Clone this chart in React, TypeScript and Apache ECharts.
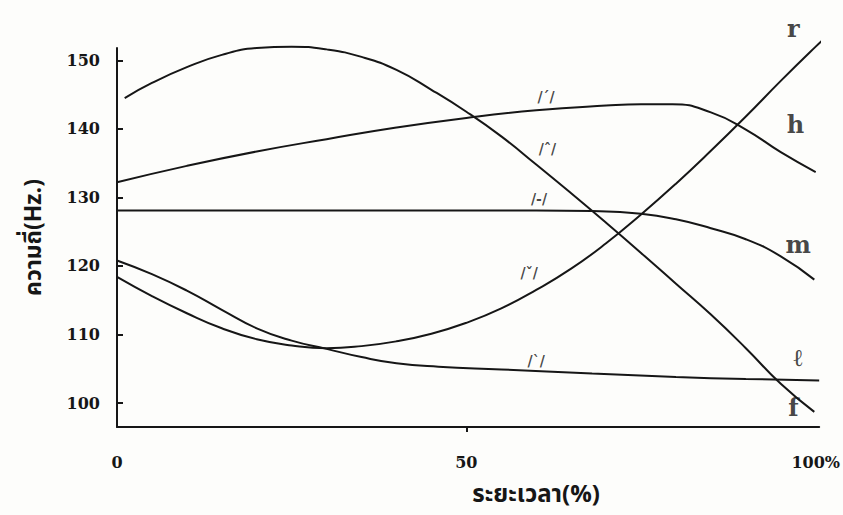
import React, { useEffect, useRef } from "react";
import * as echarts from "echarts";

// Tick values
const Y_TICKS = [100, 110, 120, 130, 140, 150];
const X_TICKS = [0, 50, 100];
const X_TICK_MARKS = [50];

// Tone contours: [time %, frequency Hz]
const FALLING: [number, number][] = [
  [1.1, 144.5], [5, 146.7], [10, 149.0], [15, 150.8], [20, 151.8], [25, 152.0], [30, 151.6],
  [35, 150.5], [40, 148.6], [45, 145.7], [50, 142.5], [55, 138.9], [60, 134.8], [65, 130.6],
  [70, 126.3], [75, 121.9], [80, 117.4], [85, 112.9], [90, 108.0], [95, 102.8], [99.8, 98.7],
];
const HIGH: [number, number][] = [
  [0, 132.2], [10, 134.6], [20, 136.7], [30, 138.5], [40, 140.2], [50, 141.6],
  [60, 142.7], [70, 143.4], [75, 143.6], [79.5, 143.6], [85, 142.4],
  [90, 139.9], [95, 136.6], [100, 133.7],
];
const MID: [number, number][] = [
  [0, 128.1], [20, 128.1], [40, 128.1], [60, 128.1], [68, 128.0], [75, 127.6], [80, 126.8],
  [85, 125.5], [90, 123.9], [95, 121.4], [99.8, 118.0],
];
const RISING: [number, number][] = [
  [0, 118.4], [5, 115.6], [10, 113.1], [15, 110.9], [20, 109.3], [25, 108.4], [30, 108.0],
  [35, 108.3], [40, 109.0], [45, 110.1], [50, 111.7], [55, 113.8], [60, 116.5], [65, 119.6],
  [70, 123.3], [75, 127.5], [80, 132.0], [85, 136.8], [90, 141.8], [95, 147.0],
  [100, 152.0], [101.7, 153.6],
];
const LOW: [number, number][] = [
  [0, 120.8], [5, 118.8], [10, 116.4], [15, 113.6], [20, 110.9], [25, 109.1], [30, 107.9],
  [35, 106.7], [40, 105.8], [46, 105.3], [55, 104.9], [68, 104.3], [80, 103.8],
  [90, 103.5], [100.5, 103.3],
];

// Tone letters at the right: [x %, Hz, text]
const END_LABELS: [number, number, string][] = [
  [96.8, 154.7, "r"],
  [97.1, 140.6, "h"],
  [97.5, 123.1, "m"],
  [97.5, 106.6, "ℓ"],
  [96.8, 99.3, "f"],
];
// Tone marks inside the plot: [x %, Hz, text]
const TONE_MARKS: [number, number, string][] = [
  [61.4, 144.6, "/ˊ/"],
  [61.6, 137.0, "/ˆ/"],
  [60.4, 129.8, "/-/"],
  [59.0, 118.9, "/ˇ/"],
  [60.0, 106.2, "/ˋ/"],
];

const Y_NAME = "ความถี่(Hz.)";
const X_NAME = "ระยะเวลา(%)";

const INK = "#161616";
const SERIF = "'DejaVu Serif', 'Liberation Serif', serif";
const THAI = "'Noto Sans Thai', 'Noto Sans', 'DejaVu Sans', sans-serif";

export default function App() {
  const ref = useRef<HTMLDivElement>(null);
  useEffect(() => {
    if (!ref.current) return;
    const chart = echarts.init(ref.current, undefined, { renderer: "svg" });
    const lineSeries = (name: string, data: [number, number][]) => ({
      name,
      type: "line",
      data,
      smooth: 0.5,
      symbol: "none",
      clip: false,
      silent: true,
      lineStyle: { color: INK, width: 2 },
    });
    chart.setOption({
      animation: false,
      backgroundColor: "#fdfdfb",
      grid: { left: 117, right: 17, top: 48, bottom: 88 },
      xAxis: {
        type: "value",
        min: 0,
        max: 100.5,
        name: X_NAME,
        nameLocation: "middle",
        nameGap: 56,
        nameTextStyle: {
          fontFamily: THAI,
          fontSize: 24,
          color: INK,
          fontWeight: "bold",
          padding: [0, 0, 0, 136],
        },
        axisLine: { show: true, lineStyle: { color: INK, width: 2 } },
        axisTick: { show: true, inside: false, length: 5, customValues: X_TICK_MARKS, lineStyle: { color: INK, width: 2 } },
        axisLabel: {
          customValues: X_TICKS,
          margin: 27,
          formatter: (v: number) => (v === 100 ? "100%" : String(v)),
          fontFamily: SERIF,
          fontWeight: "bold",
          fontSize: 16,
          color: INK,
        },
        splitLine: { show: false },
      },
      yAxis: {
        type: "value",
        min: 96.5,
        max: 151.8,
        name: Y_NAME,
        nameLocation: "middle",
        nameRotate: 90,
        nameGap: 72,
        nameTextStyle: { fontFamily: THAI, fontSize: 23, color: INK, fontWeight: "bold" },
        axisLine: { show: true, lineStyle: { color: INK, width: 2 } },
        axisTick: { show: true, inside: true, length: 6, customValues: Y_TICKS, lineStyle: { color: INK, width: 2 } },
        axisLabel: {
          customValues: Y_TICKS,
          margin: 17,
          fontFamily: SERIF,
          fontWeight: "bold",
          fontSize: 16,
          color: INK,
        },
        splitLine: { show: false },
      },
      series: [
        lineSeries("falling", FALLING),
        lineSeries("high", HIGH),
        lineSeries("mid", MID),
        lineSeries("rising", RISING),
        lineSeries("low", LOW),
        {
          name: "tone letters",
          type: "scatter",
          data: END_LABELS,
          symbolSize: 0,
          silent: true,
          clip: false,
          label: {
            show: true,
            position: "inside",
            formatter: (p: any) => p.data[2],
            fontFamily: SERIF,
            fontWeight: "bold",
            fontSize: 24,
            color: INK,
          },
        },
        {
          name: "tone marks",
          type: "scatter",
          data: TONE_MARKS,
          symbolSize: 0,
          silent: true,
          clip: false,
          label: {
            show: true,
            position: "inside",
            formatter: (p: any) => p.data[2],
            fontFamily: SERIF,
            fontWeight: "bold",
            fontSize: 14,
            color: INK,
          },
        },
      ],
    });
    return () => chart.dispose();
  }, []);
  return (
    <div
      ref={ref}
      style={{ position: "fixed", left: 0, top: 0, width: 843, height: 515 }}
    />
  );
}
